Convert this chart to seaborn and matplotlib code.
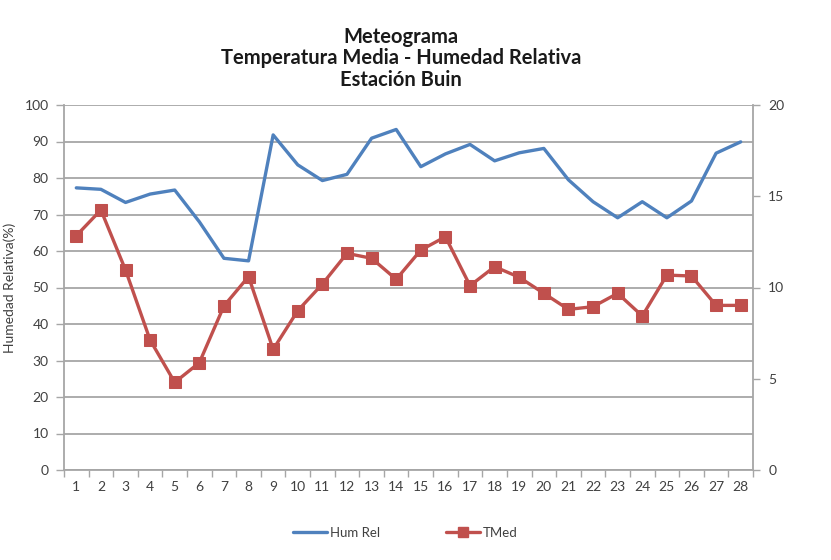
import numpy as np
import pandas as pd
import seaborn as sns
import matplotlib
matplotlib.use("Agg")
import matplotlib.pyplot as plt
from matplotlib.lines import Line2D

# ---- data ----
dias = list(range(1, 29))
hum_rel = [77.3, 76.9, 73.3, 75.6, 76.7, 68.0, 58.0, 57.3, 91.8, 83.6,
           79.3, 81.0, 90.9, 93.3, 83.1, 86.6, 89.2, 84.7, 86.9, 88.1,
           79.5, 73.5, 69.1, 73.5, 69.1, 73.7, 86.8, 89.9]
tmed = [12.84, 14.25, 10.96, 7.12, 4.8, 5.88, 8.99, 10.6, 6.61, 8.73,
        10.19, 11.87, 11.6, 10.45, 12.05, 12.78, 10.1, 11.14, 10.56, 9.68,
        8.8, 8.95, 9.68, 8.44, 10.68, 10.63, 9.02, 9.02]
titulo = ["Meteograma", "Temperatura Media - Humedad Relativa", "Estación Buin"]
serie_names = ["Hum Rel", "TMed"]

df = pd.DataFrame({"dia": dias, "hum": hum_rel, "tmed": tmed})

sns.set_theme(style="white")
plt.rcParams["font.family"] = ["Lato", "DejaVu Sans"]

BLUE = "#4F81BD"
RED = "#C0504D"
GRID = "#a6a6a6"
TXT = "#404040"

fig, ax = plt.subplots(figsize=(8.31, 5.6), dpi=100)
fig.subplots_adjust(left=64 / 831, right=753 / 831, top=1 - 105 / 560, bottom=1 - 470 / 560)

sns.lineplot(data=df, x="dia", y="hum", ax=ax, color=BLUE, linewidth=2.4)
ax2 = ax.twinx()
sns.lineplot(data=df, x="dia", y="tmed", ax=ax2, color=RED, linewidth=2.4,
             marker="s", markersize=8, markeredgecolor=RED, markerfacecolor=RED)

ax.set_xlim(0.5, 28.5)
ax.set_ylim(0, 100)
ax2.set_ylim(0, 20)
ax.set_yticks(np.arange(0, 101, 10))
ax2.set_yticks(np.arange(0, 21, 5))
ax.set_xticks(dias)
ax.set_xticklabels([str(d) for d in dias])
ax.set_xticks(np.arange(0.5, 29, 1), minor=True)
ax.tick_params(axis="x", which="major", length=0, pad=8, labelsize=10, labelcolor=TXT)
ax.tick_params(axis="x", which="minor", length=5, width=1, color=GRID, direction="out", bottom=True)
ax.tick_params(axis="y", length=6, width=1, color=GRID, direction="out", left=True, labelsize=10,
               labelcolor=TXT, pad=5)
ax2.tick_params(axis="y", length=5, width=1, color=GRID, direction="out", right=True, labelsize=10,
                labelcolor=TXT, pad=6)

ax.yaxis.grid(True, color=GRID, linewidth=1.3)
ax.xaxis.grid(False)
ax2.grid(False)
ax.set_axisbelow(True)

for a in (ax, ax2):
    a.spines["top"].set_visible(False)
    for s in ("left", "bottom", "right"):
        a.spines[s].set_color(GRID)
        a.spines[s].set_linewidth(1.3)
ax.spines["right"].set_visible(False)
ax2.spines["left"].set_visible(False)
ax2.spines["bottom"].set_visible(False)

ax.set_xlabel("")
ax2.set_ylabel("")
ax.set_ylabel("Humedad Relativa(%)", fontsize=10, color=TXT, labelpad=6)

for i, (line, y) in enumerate(zip(titulo, [37, 58, 80])):
    fig.text(401 / 831, 1 - y / 560, line, ha="center", va="center",
             fontsize=14.5, fontweight="bold", color="#1a1a1a")

handles = [Line2D([], [], color=BLUE, linewidth=2.4),
           Line2D([], [], color=RED, linewidth=2.4, marker="s", markersize=7)]
fig.legend(handles, serie_names, loc="center", bbox_to_anchor=(405 / 831, 1 - 533 / 560),
           ncol=2, frameon=False, fontsize=9.5, handlelength=2.6, columnspacing=5.0,
           handletextpad=0.2, labelcolor=TXT)

fig.savefig("out.png", dpi=100, facecolor="white")
